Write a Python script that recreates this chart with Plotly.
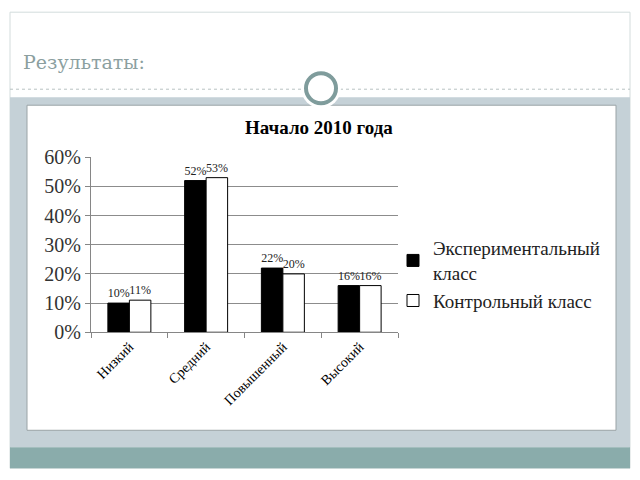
import plotly.graph_objects as go

categories = ["Низкий", "Средний", "Повышенный", "Высокий"]
exp_values = [0.10, 0.52, 0.22, 0.16]
ctrl_values = [0.11, 0.53, 0.20, 0.16]
exp_labels = ["10%", "52%", "22%", "16%"]
ctrl_labels = ["11%", "53%", "20%", "16%"]
y_ticks = [0, 0.1, 0.2, 0.3, 0.4, 0.5, 0.6]
y_tick_text = ["0%", "10%", "20%", "30%", "40%", "50%", "60%"]

W, H = 640, 480
SERIF = "Liberation Serif, Times New Roman, serif"


def px(x):
    return (x - 8) / W


def py(y):
    return 1 - ((y - 18.8) / 0.954) / H


fig = go.Figure()
fig.add_trace(go.Bar(
    name="Экспериментальный<br>класс", x=categories, y=exp_values,
    text=exp_labels, textposition="outside", cliponaxis=False,
    constraintext="none",
    marker=dict(color="black", line=dict(color="black", width=1)),
    textfont=dict(family=SERIF, size=12, color="#222"),
))
fig.add_trace(go.Bar(
    name="Контрольный класс", x=categories, y=ctrl_values,
    text=ctrl_labels, textposition="outside", cliponaxis=False,
    constraintext="none",
    marker=dict(color="white", line=dict(color="black", width=1)),
    textfont=dict(family=SERIF, size=12, color="#222"),
))

shapes = []
shapes.append(dict(type="rect", xref="paper", yref="paper",
                   x0=px(10), x1=px(630), y0=py(468), y1=py(12),
                   line=dict(color="#d3dcdc", width=1), fillcolor="white", layer="below"))
shapes.append(dict(type="rect", xref="paper", yref="paper",
                   x0=px(10), x1=px(630), y0=py(447), y1=py(97),
                   line=dict(width=0), fillcolor="#c5d1d7", layer="below"))
shapes.append(dict(type="rect", xref="paper", yref="paper",
                   x0=px(10), x1=px(630), y0=py(468), y1=py(447),
                   line=dict(width=0), fillcolor="#8aacab", layer="below"))
shapes.append(dict(type="rect", xref="paper", yref="paper",
                   x0=px(27), x1=px(616), y0=py(430), y1=py(105),
                   line=dict(color="#9aa3a6", width=1), fillcolor="white", layer="below"))
shapes.append(dict(type="line", xref="paper", yref="paper",
                   x0=px(10), x1=px(630), y0=py(89), y1=py(89),
                   line=dict(color="#b8c2c2", width=1, dash="dot"), layer="below"))
shapes.append(dict(type="circle", xref="paper", yref="paper",
                   x0=px(301), x1=px(341), y0=py(108), y1=py(68),
                   line=dict(width=0), fillcolor="white", layer="below"))
shapes.append(dict(type="circle", xref="paper", yref="paper",
                   x0=px(306), x1=px(336), y0=py(103), y1=py(73),
                   line=dict(color="#7f9c9c", width=4), fillcolor="white", layer="below"))

annotations = [
    dict(text="Результаты:", xref="paper", yref="paper", x=px(21), y=py(62),
         xanchor="left", yanchor="middle", showarrow=False,
         font=dict(family="DejaVu Serif, Liberation Serif, serif", size=19, color="#8c9f9f")),
    dict(text="<b>Начало 2010 года</b>", xref="paper", yref="paper", x=px(319), y=py(127),
         xanchor="center", yanchor="middle", showarrow=False,
         font=dict(family=SERIF, size=19, color="black")),
]

fig.update_layout(
    width=W, height=H,
    margin=dict(l=0, r=0, t=0, b=0),
    paper_bgcolor="white", plot_bgcolor="rgba(0,0,0,0)",
    barmode="group", bargap=0.44, bargroupgap=0,
    shapes=shapes, annotations=annotations,
    showlegend=True,
    legend=dict(x=px(393), y=py(229), xanchor="left", yanchor="top",
                bgcolor="rgba(0,0,0,0)", font=dict(family=SERIF, size=19, color="#222"),
                tracegroupgap=0, traceorder="normal"),
    xaxis=dict(domain=[px(91), px(398)], showline=True, linecolor="#868686", linewidth=1,
               ticks="outside", tickson="boundaries", ticklen=5, tickcolor="#868686",
               tickangle=-45, tickfont=dict(family=SERIF, size=14, color="black"),
               showgrid=False),
    yaxis=dict(domain=[py(332), py(157)], range=[0, 0.6], tickvals=y_ticks, ticktext=y_tick_text,
               showgrid=True, gridcolor="#8c8c8c", gridwidth=1,
               showline=True, linecolor="#868686", linewidth=1,
               ticks="outside", ticklen=5, tickcolor="#868686",
               tickfont=dict(family=SERIF, size=20, color="#333"), zeroline=False),
)

fig.write_html("out.html")
